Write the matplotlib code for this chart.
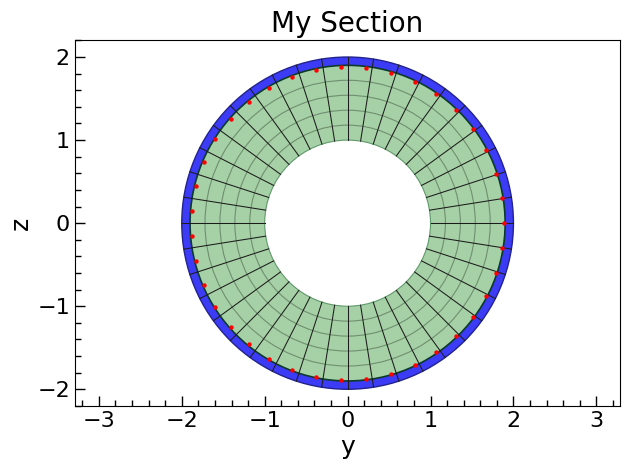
import matplotlib
matplotlib.use("Agg")
import numpy as np
import matplotlib.pyplot as plt
from matplotlib.patches import Wedge, Circle

# section radii
inner_radius = 1.0
core_radii = [1.0, 1.18, 1.36, 1.54, 1.72, 1.9]
cover_radii = [1.9, 2.0]
bar_radius = 1.885

# radial division lines (deg)
div_angles = [0, 9, 18, 27, 36, 45, 54, 63, 72, 81, 90, 99, 108, 117, 126, 135, 144, 153, 162, 171,
              180, 189, 198, 207, 216, 225, 234, 243, 252, 261, 270, 279, 288, 297, 306, 315, 324, 333, 342, 351]

# rebar positions (deg)
bar_angles = [0, 9.23, 18.46, 27.69, 36.92, 46.15, 55.38, 64.62, 73.85, 83.08, 92.31, 101.54, 110.77,
              120, 129.23, 138.46, 147.69, 156.92, 166.15, 175.38, 184.62, 193.85, 203.08, 212.31,
              221.54, 230.77, 240, 249.23, 258.46, 267.69, 276.92, 286.15, 295.38, 304.62, 313.85,
              323.08, 332.31, 341.54, 350.77]

xticks = [-3, -2, -1, 0, 1, 2, 3]
yticks = [-2, -1, 0, 1, 2]

fig, ax = plt.subplots(figsize=(6.3, 4.7), dpi=100)

ax.add_patch(Wedge((0, 0), core_radii[-1], 0, 360, width=core_radii[-1] - inner_radius,
                   facecolor="#a6d0a6", edgecolor="none", zorder=1))
ax.add_patch(Wedge((0, 0), cover_radii[1], 0, 360, width=cover_radii[1] - cover_radii[0],
                   facecolor="#3c3cf6", edgecolor="none", zorder=1))

# rings
for r in core_radii[1:-1]:
    ax.add_patch(Circle((0, 0), r, fill=False, edgecolor="#6f8f6f", lw=0.8, zorder=2))
ax.add_patch(Circle((0, 0), inner_radius, fill=False, edgecolor="#5f9a6a", lw=0.8, zorder=2))
ax.add_patch(Circle((0, 0), cover_radii[0], fill=False, edgecolor="#0b3b2a", lw=1.2, zorder=3))
ax.add_patch(Circle((0, 0), cover_radii[1], fill=False, edgecolor="#23238f", lw=1.0, zorder=3))

# radial lines
for a in div_angles:
    c = np.cos(np.radians(a))
    s = np.sin(np.radians(a))
    ax.plot([inner_radius * c, cover_radii[1] * c], [inner_radius * s, cover_radii[1] * s],
            color="#1c1c1c", lw=0.75, zorder=3)

bar_y = bar_radius * np.cos(np.radians(bar_angles))
bar_z = bar_radius * np.sin(np.radians(bar_angles))
ax.scatter(bar_y, bar_z, s=10, color="red", linewidths=0, zorder=4)

ax.set_xlim(-3.29, 3.29)
ax.set_ylim(-2.205, 2.205)
ax.set_xticks(xticks)
ax.set_yticks(yticks)
ax.set_xticks(np.arange(-3.2, 3.3, 0.2), minor=True)
ax.set_yticks(np.arange(-2.2, 2.3, 0.2), minor=True)
ax.tick_params(which="major", direction="in", length=7, width=1, labelsize=16)
ax.tick_params(which="minor", direction="in", length=4, width=1)
ax.set_xlabel("y", fontsize=18, labelpad=3)
ax.set_ylabel("z", fontsize=18, labelpad=3)
ax.set_title("My Section", fontsize=20, pad=6)

fig.subplots_adjust(left=74.8 / 630, right=620.4 / 630, top=1 - 40 / 470, bottom=1 - 406.3 / 470)
plt.savefig("out.png", dpi=100)
